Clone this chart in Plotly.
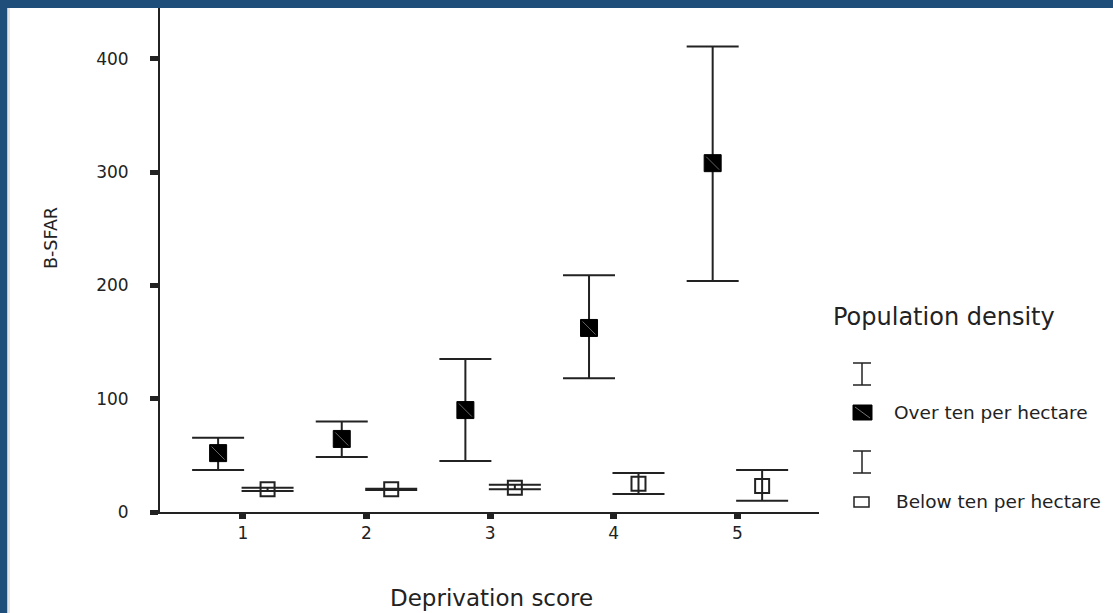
import plotly.graph_objects as go

# ---- data ----
deprivation = [1, 2, 3, 4, 5]
over_mean = [52, 64.5, 90, 162.5, 308]
over_upper = [65.5, 80, 135, 209, 411]
over_lower = [37, 48.5, 45, 118, 204]
below_mean = [20, 20, 21.5, 25, 23]
below_upper = [21.5, 20.5, 24, 34.5, 37]
below_lower = [18.5, 19.5, 20, 16, 10]
y_ticks = [0, 100, 200, 300, 400]

W, H = 1113, 613
L, R, T, B = 160, 819, 8, 512  # plot area in px
FONT = "DejaVu Sans"
INK = "#222222"
BLUE = "#1f4e7a"

def px_x(p):
    return (p - L) / (R - L)

def px_y(p):
    return (B - p) / (B - T)

offset = 0.2
x_over = [d - offset for d in deprivation]
x_below = [d + offset for d in deprivation]

fig = go.Figure()

fig.add_trace(go.Scatter(
    x=x_over, y=over_mean, mode="markers", name="Over ten per hectare",
    marker=dict(symbol="square", size=17, color="#000000", line=dict(color="#000000", width=1)),
    error_y=dict(type="data", symmetric=False,
                 array=[u - m for u, m in zip(over_upper, over_mean)],
                 arrayminus=[m - l for m, l in zip(over_mean, over_lower)],
                 color=INK, thickness=2, width=26),
    showlegend=False,
))
# faint diagonal inside the filled squares
fig.add_trace(go.Scatter(
    x=x_over, y=over_mean, mode="markers", hoverinfo="skip",
    marker=dict(symbol="line-nw", size=13, color="#666666", line=dict(color="#666666", width=1)),
    showlegend=False,
))
fig.add_trace(go.Scatter(
    x=x_below, y=below_mean, mode="markers", name="Below ten per hectare",
    marker=dict(symbol="square-open", size=14, color=INK, line=dict(color=INK, width=2)),
    error_y=dict(type="data", symmetric=False,
                 array=[u - m for u, m in zip(below_upper, below_mean)],
                 arrayminus=[m - l for m, l in zip(below_mean, below_lower)],
                 color=INK, thickness=2, width=26),
    showlegend=False,
))

shapes = []
# blue frame (left and top)
shapes.append(dict(type="rect", xref="paper", yref="paper",
                   x0=px_x(0), x1=px_x(7.5), y0=px_y(H), y1=px_y(0),
                   fillcolor=BLUE, line=dict(width=0), layer="above"))
shapes.append(dict(type="rect", xref="paper", yref="paper",
                   x0=px_x(0), x1=px_x(W), y0=px_y(8), y1=px_y(0),
                   fillcolor=BLUE, line=dict(width=0), layer="above"))
shapes.append(dict(type="rect", xref="paper", yref="paper",
                   x0=px_x(7.5), x1=px_x(10), y0=px_y(H), y1=px_y(8),
                   fillcolor="#e6e6e6", line=dict(width=0), layer="above"))

# legend glyphs
def ibar(cy_top, cy_bot, cx=862, hw=9):
    return [
        dict(type="line", xref="paper", yref="paper", x0=px_x(cx), x1=px_x(cx),
             y0=px_y(cy_top), y1=px_y(cy_bot), line=dict(color=INK, width=1.5)),
        dict(type="line", xref="paper", yref="paper", x0=px_x(cx - hw), x1=px_x(cx + hw),
             y0=px_y(cy_top), y1=px_y(cy_top), line=dict(color=INK, width=1.5)),
        dict(type="line", xref="paper", yref="paper", x0=px_x(cx - hw), x1=px_x(cx + hw),
             y0=px_y(cy_bot), y1=px_y(cy_bot), line=dict(color=INK, width=1.5)),
    ]

shapes += ibar(363, 385)
shapes += ibar(451, 473)
shapes.append(dict(type="rect", xref="paper", yref="paper",
                   x0=px_x(853), x1=px_x(872), y0=px_y(420), y1=px_y(405),
                   fillcolor="#000000", line=dict(color="#000000", width=1)))
shapes.append(dict(type="line", xref="paper", yref="paper",
                   x0=px_x(855), x1=px_x(870), y0=px_y(407), y1=px_y(418),
                   line=dict(color="#777777", width=1)))
shapes.append(dict(type="rect", xref="paper", yref="paper",
                   x0=px_x(854), x1=px_x(869), y0=px_y(507), y1=px_y(497),
                   fillcolor="rgba(0,0,0,0)", line=dict(color=INK, width=1.5)))

annotations = [
    dict(text="B-SFAR", xref="paper", yref="paper", x=px_x(51), y=px_y(238),
         textangle=-90, showarrow=False, xanchor="center", yanchor="middle",
         font=dict(family=FONT, size=17.5, color=INK)),
    dict(text="Deprivation score", xref="paper", yref="paper", x=px_x(491), y=px_y(598),
         showarrow=False, xanchor="center", yanchor="middle",
         font=dict(family=FONT, size=23, color=INK)),
    dict(text="Population density", xref="paper", yref="paper", x=px_x(831), y=px_y(317),
         showarrow=False, xanchor="left", yanchor="middle",
         font=dict(family=FONT, size=24, color=INK)),
    dict(text="Over ten per hectare", xref="paper", yref="paper", x=px_x(892), y=px_y(412),
         showarrow=False, xanchor="left", yanchor="middle",
         font=dict(family=FONT, size=18.5, color=INK)),
    dict(text="Below ten per hectare", xref="paper", yref="paper", x=px_x(894), y=px_y(501),
         showarrow=False, xanchor="left", yanchor="middle",
         font=dict(family=FONT, size=18.5, color=INK)),
]

fig.update_layout(
    width=W, height=H,
    margin=dict(l=L, r=W - R, t=T, b=H - B, pad=0),
    paper_bgcolor="white", plot_bgcolor="white",
    font=dict(family=FONT, color=INK),
    shapes=shapes, annotations=annotations,
    hovermode=False,
    xaxis=dict(range=[0.33, 5.66], tickvals=deprivation, ticktext=[str(d) for d in deprivation],
               showgrid=False, zeroline=False, showline=True, linecolor=INK, linewidth=2,
               ticks="outside", ticklen=5, tickwidth=7, tickcolor=INK,
               tickfont=dict(family=FONT, size=17, color=INK), ticklabelstandoff=0),
    yaxis=dict(range=[0, 445], tickvals=y_ticks, ticktext=[str(v) for v in y_ticks],
               showgrid=False, zeroline=False, showline=True, linecolor=INK, linewidth=2,
               ticks="outside", ticklen=8, tickwidth=5, tickcolor=INK,
               tickfont=dict(family=FONT, size=17, color=INK), ticklabelstandoff=18),
)

fig.write_html("out.html",
               config={"displayModeBar": False},
               post_script="document.body.style.margin='0';document.body.style.overflow='hidden';")
